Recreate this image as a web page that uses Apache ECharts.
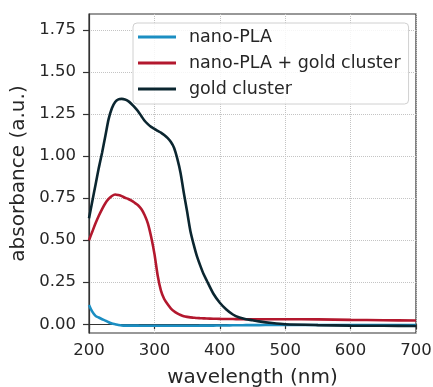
<!DOCTYPE html>
<html>
<head>
<meta charset="utf-8">
<script src="https://cdn.jsdelivr.net/npm/echarts@6/dist/echarts.min.js"></script>
<style>
  html, body { margin: 0; padding: 0; background: #fff; }
  #chart { width: 433px; height: 387px; }
</style>
</head>
<body>
<div id="chart"></div>
<script>
const wavelengths = [200,205,210,215,220,225,230,235,240,245,250,255,260,265,270,275,280,285,290,295,300,305,310,315,320,325,330,335,340,345,350,355,360,
  365,370,375,380,390,400,410,420,430,440,450,460,480,500,550,600,650,700];

const nanoPLA = [0.115,0.075,0.05,0.04,0.03,0.022,0.012,0.004,0.0,-0.004,-0.007,-0.008,
  -0.008,-0.008,-0.008,-0.008,-0.009,-0.009,-0.009,-0.009,-0.009,-0.009,-0.009,-0.009,-0.009,-0.009,-0.009,-0.009,-0.009,-0.009,-0.009,-0.009,-0.009,
  -0.009,-0.008,-0.008,-0.008,-0.008,-0.007,-0.007,-0.006,-0.006,-0.005,-0.005,-0.005,-0.004,-0.004,-0.004,-0.005,-0.005,-0.004];

const nanoPLAGold = [0.50,0.55,0.60,0.645,0.685,0.72,0.745,0.763,0.772,0.768,0.762,0.752,0.745,0.735,0.722,0.708,0.685,0.65,0.60,0.52,0.42,0.29,0.20,0.15,0.12,0.095,0.077,0.064,0.055,0.048,0.044,0.041,0.039,
  0.037,0.036,0.035,0.034,0.033,0.032,0.031,0.031,0.030,0.030,0.030,0.030,0.030,0.030,0.029,0.026,0.024,0.022];

const goldCluster = [0.63,0.73,0.83,0.93,1.02,1.12,1.22,1.285,1.322,1.337,1.34,1.337,1.327,1.31,1.29,1.267,1.238,1.21,1.19,1.174,1.162,1.15,1.14,1.125,1.108,1.085,1.05,0.985,0.90,0.78,0.67,0.555,0.475,
  0.405,0.35,0.30,0.26,0.183,0.128,0.088,0.058,0.04,0.03,0.024,0.017,0.007,0.0,-0.005,-0.008,-0.009,-0.01];

const seriesNames = ['nano-PLA', 'nano-PLA + gold cluster', 'gold cluster'];
const yTicks = [0, 0.25, 0.5, 0.75, 1.0, 1.25, 1.5, 1.75];

const colors = ['#1b8ec2', '#b3182e', '#0b2630'];
const font = 'DejaVu Sans';

const pairs = arr => wavelengths.map((w, i) => [w, arr[i]]);

const chart = echarts.init(document.getElementById('chart'), null, { renderer: 'canvas' });
chart.setOption({
  animation: false,
  backgroundColor: '#ffffff',
  textStyle: { fontFamily: font },
  grid: {
    left: 89, right: 17, top: 14, bottom: 54,
    outerBoundsMode: 'none', containLabel: false,
    show: true, borderColor: '#333333', borderWidth: 1.2, backgroundColor: 'transparent'
  },
  legend: {
    left: 133, top: 23,
    orient: 'vertical',
    data: seriesNames,
    icon: 'rect',
    itemWidth: 38, itemHeight: 3,
    itemGap: 8,
    padding: [5, 8, 6, 5],
    backgroundColor: 'rgba(255,255,255,0.85)',
    borderColor: '#d0d0d0', borderWidth: 1, borderRadius: 4,
    textStyle: { fontFamily: font, fontSize: 17.5, color: '#262626', lineHeight: 18, padding: [0, 0, 0, 8] }
  },
  xAxis: {
    type: 'value',
    min: 200, max: 700, interval: 100,
    name: 'wavelength (nm)',
    nameLocation: 'middle', nameGap: 35,
    nameTextStyle: { fontFamily: font, fontSize: 20, color: '#262626' },
    axisLine: { show: true, lineStyle: { color: '#333333', width: 1.2 } },
    axisTick: { show: true, length: 5, lineStyle: { color: '#333333', width: 1.2 } },
    axisLabel: { fontFamily: font, fontSize: 16.5, color: '#262626', margin: 9 },
    splitLine: { show: true, lineStyle: { type: 'dotted', color: '#c4c4c4', width: 1 } }
  },
  yAxis: {
    type: 'value',
    min: -0.052, max: 1.845,
    name: 'absorbance (a.u.)',
    nameLocation: 'middle', nameGap: 58,
    nameTextStyle: { fontFamily: font, fontSize: 20, color: '#262626' },
    axisLine: { show: true, lineStyle: { color: '#333333', width: 1.2 } },
    axisTick: { show: true, length: 6, customValues: yTicks, lineStyle: { color: '#333333', width: 1.2 } },
    axisLabel: {
      fontFamily: font, fontSize: 16.5, color: '#262626', margin: 13,
      customValues: yTicks,
      formatter: v => v.toFixed(2)
    },
    splitLine: { show: true, lineStyle: { type: 'dotted', color: '#c4c4c4', width: 1 } }
  },
  series: [
    { name: seriesNames[0], type: 'line', data: pairs(nanoPLA), showSymbol: false, symbol: 'none', smooth: 0.25,
      lineStyle: { color: colors[0], width: 2.6 }, itemStyle: { color: colors[0] } },
    { name: seriesNames[1], type: 'line', data: pairs(nanoPLAGold), showSymbol: false, symbol: 'none', smooth: 0.25,
      lineStyle: { color: colors[1], width: 2.6 }, itemStyle: { color: colors[1] } },
    { name: seriesNames[2], type: 'line', data: pairs(goldCluster), showSymbol: false, symbol: 'none', smooth: 0.25,
      lineStyle: { color: colors[2], width: 2.6 }, itemStyle: { color: colors[2] } }
  ]
});
</script>
</body>
</html>
